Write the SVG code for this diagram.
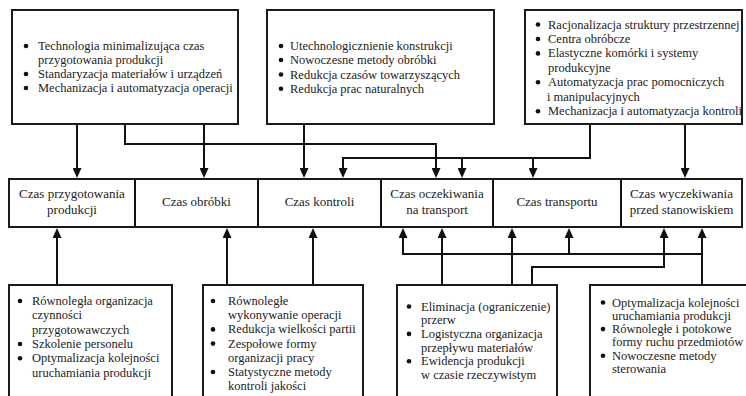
<svg xmlns="http://www.w3.org/2000/svg" width="746" height="396" viewBox="0 0 746 396">
<style>
.box{fill:#fff;stroke:#1a1a1a;stroke-width:2}
.t{font-family:'Liberation Serif','DejaVu Serif',serif;font-size:12.5px;fill:#222}
.c{font-family:'Liberation Serif','DejaVu Serif',serif;font-size:13px;fill:#222;text-anchor:middle}
.b{fill:#111}
.con{fill:none;stroke:#111;stroke-width:2}
.arr{marker-end:url(#ah)}
</style>
<defs>
<marker id="ah" viewBox="0 0 10 9" refX="6" refY="4.5" markerWidth="10" markerHeight="9" markerUnits="userSpaceOnUse" orient="auto">
<path d="M0,0 L10,4.5 L0,9 z" fill="#111"/>
</marker>
</defs>
<rect width="746" height="396" fill="#fff"/>

<g id="connectors">
<path class="con arr" d="M77,124 V174"/>
<path class="con arr" d="M204,124 V174"/>
<path class="con arr" d="M125,124 V144 H436 V174"/>
<path class="con arr" d="M304,124 V174"/>
<path class="con arr" d="M590,124 V158 H343 V174"/>
<path class="con arr" d="M462,158 V174"/>
<path class="con arr" d="M533,158 V174"/>
<path class="con arr" d="M685,124 V174"/>

<path class="con arr" d="M57,285 V232"/>
<path class="con arr" d="M227,285 V232"/>
<path class="con arr" d="M313,285 V232"/>
<path class="con arr" d="M442,285 V232"/>
<path class="con arr" d="M512,285 V232"/>
<path class="con arr" d="M532,285 V267 H664 V232"/>
<path class="con arr" d="M702,285 V232"/>
<path class="con arr" d="M702,254 H403 V232"/>
<path class="con arr" d="M569,254 V232"/>
</g>

<g id="top-left">
<rect class="box" x="12" y="10" width="226" height="114"/>
<circle class="b" cx="26" cy="46" r="2.3"/>
<circle class="b" cx="26" cy="74" r="2.3"/>
<circle class="b" cx="26" cy="88" r="2.3"/>
<text class="t" x="38" y="50">Technologia minimalizująca czas</text>
<text class="t" x="38" y="64">przygotowania produkcji</text>
<text class="t" x="38" y="78">Standaryzacja materiałów i urządzeń</text>
<text class="t" x="38" y="92">Mechanizacja i automatyzacja operacji</text>
</g>

<g id="top-middle">
<rect class="box" x="267" y="10" width="227" height="114"/>
<circle class="b" cx="281" cy="46" r="2.3"/>
<circle class="b" cx="281" cy="60" r="2.3"/>
<circle class="b" cx="281" cy="74.5" r="2.3"/>
<circle class="b" cx="281" cy="88.7" r="2.3"/>
<text class="t" x="290" y="50">Utechnologicznienie konstrukcji</text>
<text class="t" x="290" y="64">Nowoczesne metody obróbki</text>
<text class="t" x="290" y="78.5">Redukcja czasów towarzyszących</text>
<text class="t" x="290" y="92.7">Redukcja prac naturalnych</text>
</g>

<g id="top-right">
<rect class="box" x="525" y="10" width="217" height="114"/>
<circle class="b" cx="538" cy="24.5" r="2.3"/>
<circle class="b" cx="538" cy="39" r="2.3"/>
<circle class="b" cx="538" cy="53.4" r="2.3"/>
<circle class="b" cx="538" cy="82.3" r="2.3"/>
<circle class="b" cx="538" cy="111.2" r="2.3"/>
<text class="t" x="548" y="28.5">Racjonalizacja struktury przestrzennej</text>
<text class="t" x="548" y="43">Centra obróbcze</text>
<text class="t" x="548" y="57.4">Elastyczne komórki i systemy</text>
<text class="t" x="548" y="71.8">produkcyjne</text>
<text class="t" x="548" y="86.3">Automatyzacja prac pomocniczych</text>
<text class="t" x="547" y="100.7">i manipulacyjnych</text>
<text class="t" x="548" y="115.2">Mechanizacja i automatyzacja kontroli</text>
</g>

<g id="row">
<rect class="box" x="9" y="179" width="733" height="48"/>
<path class="con" d="M135,179 V227 M258,179 V227 M381,179 V227 M493,179 V227 M621,179 V227"/>
</g>
<g id="czas-przygotowania"><text class="c" x="72" y="198">Czas przygotowania</text><text class="c" x="72" y="214">produkcji</text></g>
<g id="czas-obrobki"><text class="c" x="196.5" y="206">Czas obróbki</text></g>
<g id="czas-kontroli"><text class="c" x="319.5" y="206">Czas kontroli</text></g>
<g id="czas-oczekiwania"><text class="c" x="437" y="198">Czas oczekiwania</text><text class="c" x="437" y="214">na transport</text></g>
<g id="czas-transportu"><text class="c" x="557" y="206">Czas transportu</text></g>
<g id="czas-wyczekiwania"><text class="c" x="681.5" y="198">Czas wyczekiwania</text><text class="c" x="681.5" y="214">przed stanowiskiem</text></g>

<g id="bottom-1">
<rect class="box" x="9" y="285" width="163" height="130"/>
<circle class="b" cx="20" cy="301" r="2.3"/>
<circle class="b" cx="20" cy="344" r="2.3"/>
<circle class="b" cx="20" cy="358.2" r="2.3"/>
<text class="t" x="32" y="305">Równoległa organizacja</text>
<text class="t" x="32" y="319.3">czynności</text>
<text class="t" x="32" y="333.6">przygotowawczych</text>
<text class="t" x="32" y="348">Szkolenie personelu</text>
<text class="t" x="32" y="362.2">Optymalizacja kolejności</text>
<text class="t" x="32" y="376.5">uruchamiania produkcji</text>
</g>

<g id="bottom-2">
<rect class="box" x="203" y="285" width="160" height="130"/>
<circle class="b" cx="213" cy="301" r="2.3"/>
<circle class="b" cx="213" cy="329.4" r="2.3"/>
<circle class="b" cx="213" cy="343.6" r="2.3"/>
<circle class="b" cx="213" cy="372" r="2.3"/>
<text class="t" x="228" y="305">Równoległe</text>
<text class="t" x="228" y="319.2">wykonywanie operacji</text>
<text class="t" x="228" y="333.4">Redukcja wielkości partii</text>
<text class="t" x="228" y="347.6">Zespołowe formy</text>
<text class="t" x="228" y="361.8">organizacji pracy</text>
<text class="t" x="228" y="376">Statystyczne metody</text>
<text class="t" x="228" y="390.2">kontroli jakości</text>
</g>

<g id="bottom-3">
<rect class="box" x="397" y="285" width="160" height="130"/>
<circle class="b" cx="409" cy="306.5" r="2.3"/>
<circle class="b" cx="409" cy="333.9" r="2.3"/>
<circle class="b" cx="409" cy="361.3" r="2.3"/>
<text class="t" x="421" y="310.5">Eliminacja (ograniczenie)</text>
<text class="t" x="421" y="324.2">przerw</text>
<text class="t" x="421" y="337.9">Logistyczna organizacja</text>
<text class="t" x="421" y="351.6">przepływu materiałów</text>
<text class="t" x="421" y="365.3">Ewidencja produkcji</text>
<text class="t" x="421" y="379">w czasie rzeczywistym</text>
</g>

<g id="bottom-4">
<rect class="box" x="590" y="285" width="170" height="130"/>
<circle class="b" cx="603" cy="302.5" r="2.3"/>
<circle class="b" cx="603" cy="329.1" r="2.3"/>
<circle class="b" cx="603" cy="355.7" r="2.3"/>
<text class="t" x="612" y="306.5">Optymalizacja kolejności</text>
<text class="t" x="612" y="319.8">uruchamiania produkcji</text>
<text class="t" x="612" y="333.1">Równoległe i potokowe</text>
<text class="t" x="612" y="346.4">formy ruchu przedmiotów</text>
<text class="t" x="612" y="359.7">Nowoczesne metody</text>
<text class="t" x="612" y="373">sterowania</text>
</g>
</svg>
